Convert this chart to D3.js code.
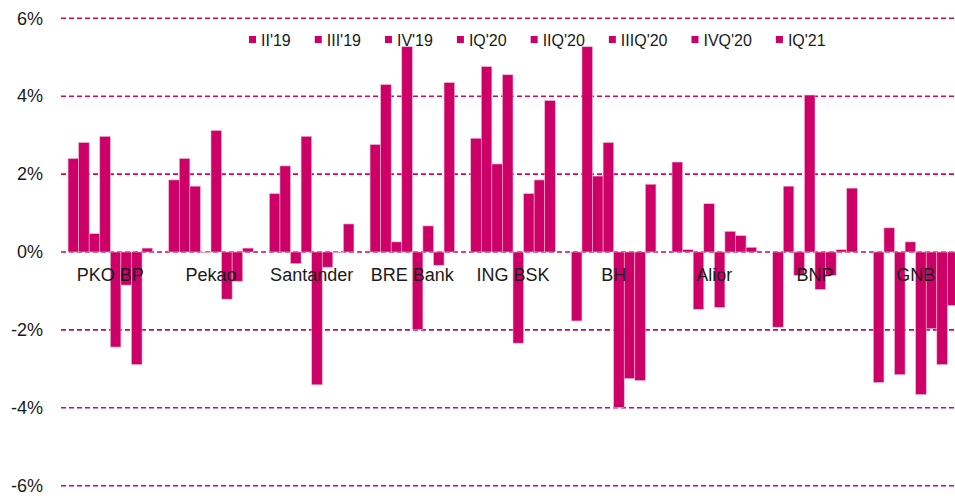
<!DOCTYPE html>
<html lang="en">
<head>
<meta charset="utf-8">
<title>Banks quarterly</title>
<script src="https://cdn.jsdelivr.net/npm/d3@7/dist/d3.min.js"></script>
<style>
  html, body { margin: 0; padding: 0; background: #fff; }
  text { font-family: "Liberation Sans", Arial, sans-serif; fill: #1a1a1a; }
</style>
</head>
<body>
<div id="main"></div>
<script>

// ---- data ----
var banks = ['PKO BP','Pekao','Santander','BRE Bank','ING BSK','BH','Alior','BNP','GNB']
var quarters = ["II'19","III'19","IV'19","IQ'20","IIQ'20","IIIQ'20","IVQ'20","IQ'21"]

var q2_19  = [2.40, 1.85, 1.50, 2.76, 2.92, -1.77, 2.31, -1.93, -3.35]
var q3_19  = [2.81, 2.40, 2.21, 4.30, 4.76, 5.27, 0.06, 1.69, 0.62]
var q4_19  = [0.47, 1.69, -0.30, 0.26, 2.26, 1.95, -1.47, -0.60, -3.15]
var q1_20  = [2.97, -0.02, 2.97, 5.27, 4.55, 2.81, 1.24, 4.03, 0.26]
var q2_20  = [-2.44, 3.12, -3.41, -1.99, -2.34, -3.99, -1.42, -0.96, -3.66]
var q3_20  = [-0.85, -1.21, -0.39, 0.67, 1.50, -3.25, 0.53, -0.60, -1.97]
var q4_20  = [-2.89, -0.75, -0.02, -0.34, 1.85, -3.30, 0.42, 0.06, -2.89]
var q1_21  = [0.10, 0.10, 0.72, 4.35, 3.89, 1.74, 0.12, 1.64, -1.37]

var series = [q2_19, q3_19, q4_19, q1_20, q2_20, q3_20, q4_20, q1_21]
var yTicks = [-6,-4,-2,0,2,4,6]

// ---- layout ----
var width = 955, height = 498
var pink = "#cc0066"

var svg = d3.select("#main").append("svg").attr("width",width).attr("height",height)

var y = d3.scaleLinear().domain([-6,6]).range([485.7,18.3])
var x0 = d3.scaleBand().domain(banks).range([60,966]).paddingInner(0.16).paddingOuter(0.08)
var x1 = d3.scaleBand().domain(quarters).range([0,x0.bandwidth()])

// gridlines (all dashed, incl. zero)
svg.append("g").selectAll("line").data(yTicks).enter().append("line")
  .attr("x1",61).attr("x2",width)
  .attr("y1",function(d){return y(d)}).attr("y2",function(d){return y(d)})
  .attr("stroke","#d6006e").attr("stroke-width",1.6)
  .attr("stroke-dasharray","5,3")

// y axis labels
var yAxis = d3.axisLeft(y).tickValues(yTicks).tickSize(0).tickPadding(0)
  .tickFormat(function(d){return d+"%"})
var ya = svg.append("g").attr("transform","translate(43,0)").call(yAxis)
ya.select(".domain").remove()
ya.selectAll("text").style("font-size","18px").style("font-family","Liberation Sans, Arial, sans-serif").attr("fill","#1a1a1a")

// bars
var rows = banks.map(function(b,i){
  return {bank:b, vals:quarters.map(function(q,j){return {q:q, v:series[j][i]}})}
})

var groups = svg.selectAll("g.bank").data(rows).enter().append("g")
  .attr("class","bank")
  .attr("transform",function(d){return "translate("+x0(d.bank)+",0)"})

groups.selectAll("rect").data(function(d){return d.vals}).enter().append("rect")
  .attr("x",function(d){return x1(d.q)})
  .attr("width",x1.bandwidth())
  .attr("y",function(d){return y(Math.max(0,d.v))})
  .attr("height",function(d){return Math.abs(y(d.v)-y(0))})
  .attr("fill",pink)
  .attr("stroke","#f2b8d4").attr("stroke-width",0.6)

// bank names under the zero line
groups.append("text")
  .attr("x",x0.bandwidth()/2).attr("y",281)
  .attr("text-anchor","middle")
  .style("font-size","18px")
  .text(function(d){return d.bank})

// legend
var lg = svg.append("g")
var lx = 249
quarters.forEach(function(q){
  lg.append("rect").attr("x",lx).attr("y",36).attr("width",7).attr("height",7).attr("fill",pink)
  var t = lg.append("text").attr("x",lx+12).attr("y",45.5).style("font-size","16px").text(q)
  lx = lx + 12 + t.node().getComputedTextLength() + 24
})

</script>
</body>
</html>
